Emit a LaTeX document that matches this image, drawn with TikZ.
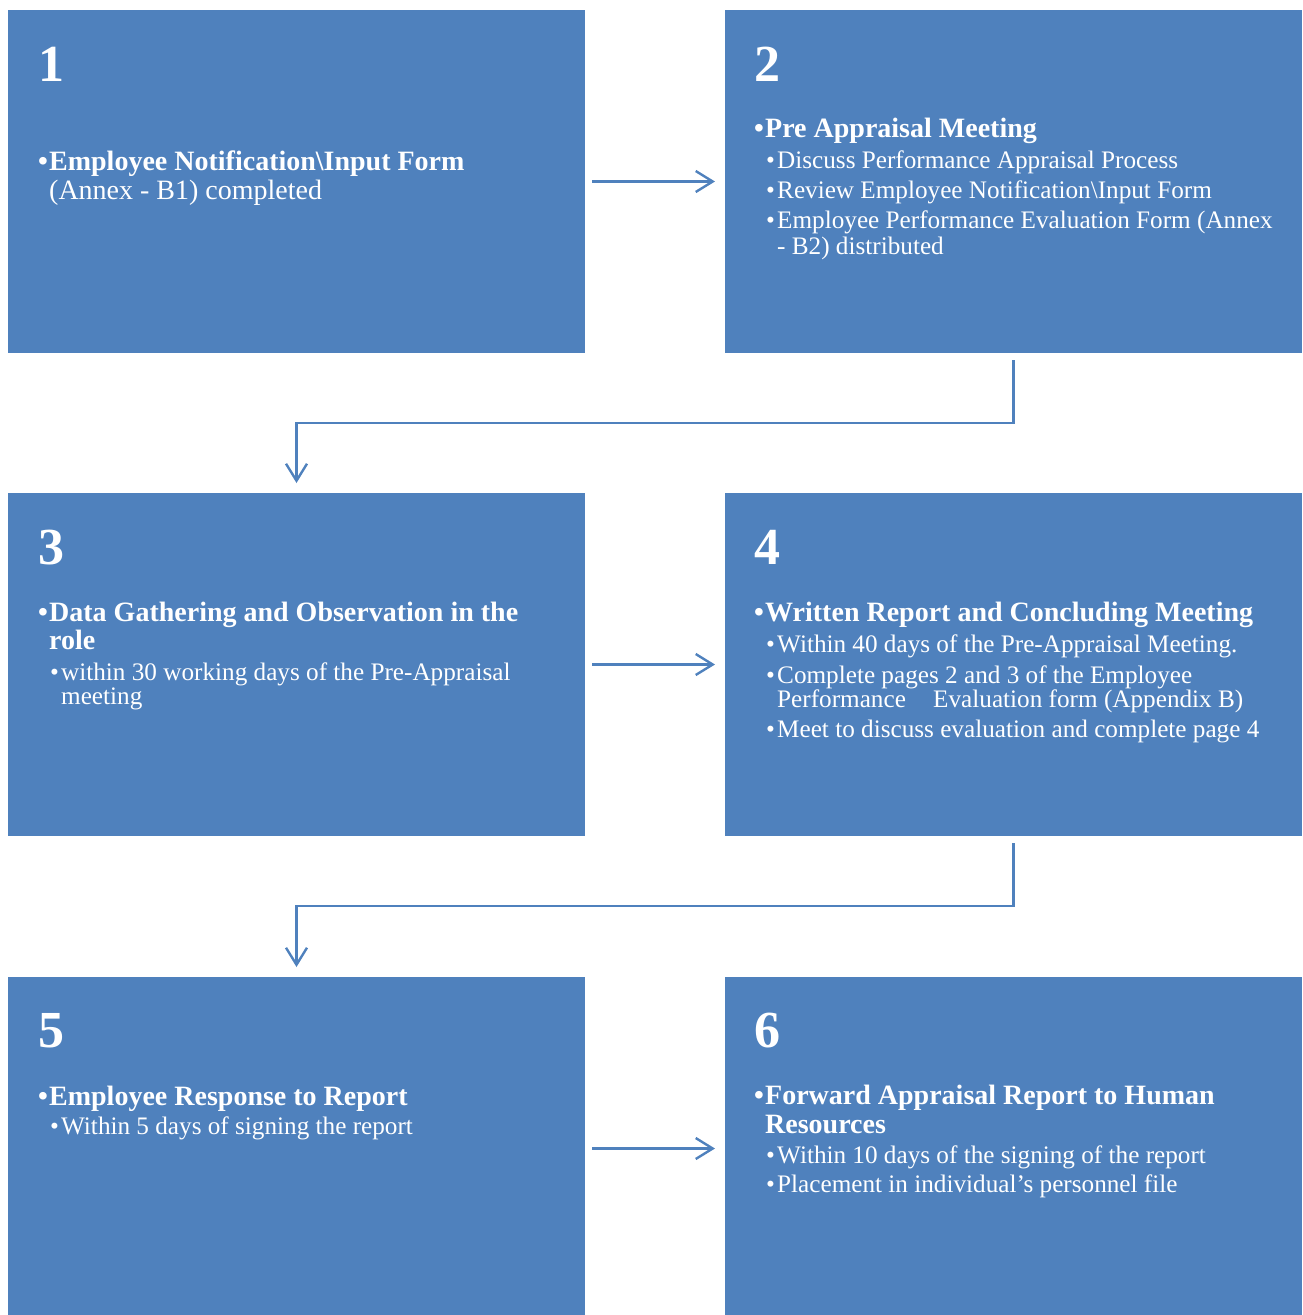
\documentclass[tikz,border=0pt]{standalone}
\usepackage{fontspec}
\setmainfont{Liberation Serif}
\usetikzlibrary{arrows.meta}
\definecolor{boxblue}{HTML}{4F81BD}
\newcommand\bul{\makebox[11pt][l]{•}}
\begin{document}
\begin{tikzpicture}[x=1pt,y=-1pt,
  box/.style={fill=boxblue, draw=none, minimum width=577pt, minimum height=343pt, inner sep=0pt, outer sep=0pt, anchor=north west},
  txt/.style={text=white, inner sep=0pt, anchor=base west},
  num/.style={txt, font=\fontsize{52}{52}\selectfont\bfseries},
  head/.style={txt, font=\fontsize{28}{28}\selectfont\bfseries},
  headr/.style={txt, font=\fontsize{28}{28}\selectfont},
  sub/.style={txt, font=\fontsize{25.2}{25}\selectfont},
  conn/.style={draw=boxblue, line width=2.4pt, -{Straight Barb[length=17pt,width=21pt,line width=2.4pt]}}
]
\useasboundingbox (0,0) rectangle (1303,1315);

% boxes
\node[box] (b1) at (8,10) {};
\node[box] (b2) at (725,10) {};
\node[box] (b3) at (8,493) {};
\node[box] (b4) at (725,493) {};
\node[box] (b5) at (8,977) {};
\node[box] (b6) at (725,977) {};

% box 1
\node[num] (n1) at (38,81) {1};
\node[head] (h1) at (38,170) {\bul Employee Notification\textbackslash Input Form};
\node[headr] (h1b) at (49,199) {(Annex - B1) completed};

% box 2
\node[num] (n2) at (754,81) {2};
\node[head] (h2) at (754,137) {\bul Pre Appraisal Meeting};
\node[sub] (s2a) at (766,168) {\bul Discuss Performance Appraisal Process};
\node[sub] (s2b) at (766,198) {\bul Review Employee Notification\textbackslash Input Form};
\node[sub] (s2c) at (766,228) {\bul Employee Performance Evaluation Form (Annex};
\node[sub] (s2d) at (777,254) {- B2) distributed};

% box 3
\node[num] (n3) at (38,564) {3};
\node[head] (h3) at (38,621) {\bul Data Gathering and Observation in the};
\node[head] (h3b) at (49,649) {role};
\node[sub] (s3a) at (50,680) {\bul within 30 working days of the Pre-Appraisal};
\node[sub] (s3b) at (61,704) {meeting};

% box 4
\node[num] (n4) at (754,564) {4};
\node[head] (h4) at (754,621) {\bul Written Report and Concluding Meeting};
\node[sub] (s4a) at (766,652) {\bul Within 40 days of the Pre-Appraisal Meeting.};
\node[sub] (s4b) at (766,683) {\bul Complete pages 2 and 3 of the Employee};
\node[sub] (s4c) at (777,707) {Performance\hspace{21pt} Evaluation form (Appendix B)};
\node[sub] (s4d) at (766,737) {\bul Meet to discuss evaluation and complete page 4};

% box 5
\node[num] (n5) at (38,1047) {5};
\node[head] (h5) at (38,1105) {\bul Employee Response to Report};
\node[sub] (s5a) at (50,1134) {\bul Within 5 days of signing the report};

% box 6
\node[num] (n6) at (754,1047) {6};
\node[head] (h6) at (754,1104) {\bul Forward Appraisal Report to Human};
\node[head] (h6b) at (765,1133) {Resources};
\node[sub] (s6a) at (766,1163) {\bul Within 10 days of the signing of the report};
\node[sub] (s6b) at (766,1192) {\bul Placement in individual’s personnel file};

% connectors
\draw[conn] ([xshift=7pt]b1.east) -- ([xshift=-10pt]b2.west);
\draw[conn] ([xshift=7pt]b3.east) -- ([xshift=-10pt]b4.west);
\draw[conn] ([xshift=7pt]b5.east) -- ([xshift=-10pt]b6.west);
\draw[conn] ([yshift=-7pt]b2.south) -- ([yshift=-70pt]b2.south) -| ([yshift=10pt]b3.north);
\draw[conn] ([yshift=-7pt]b4.south) -- ([yshift=-70pt]b4.south) -| ([yshift=10pt]b5.north);
\end{tikzpicture}
\end{document}
